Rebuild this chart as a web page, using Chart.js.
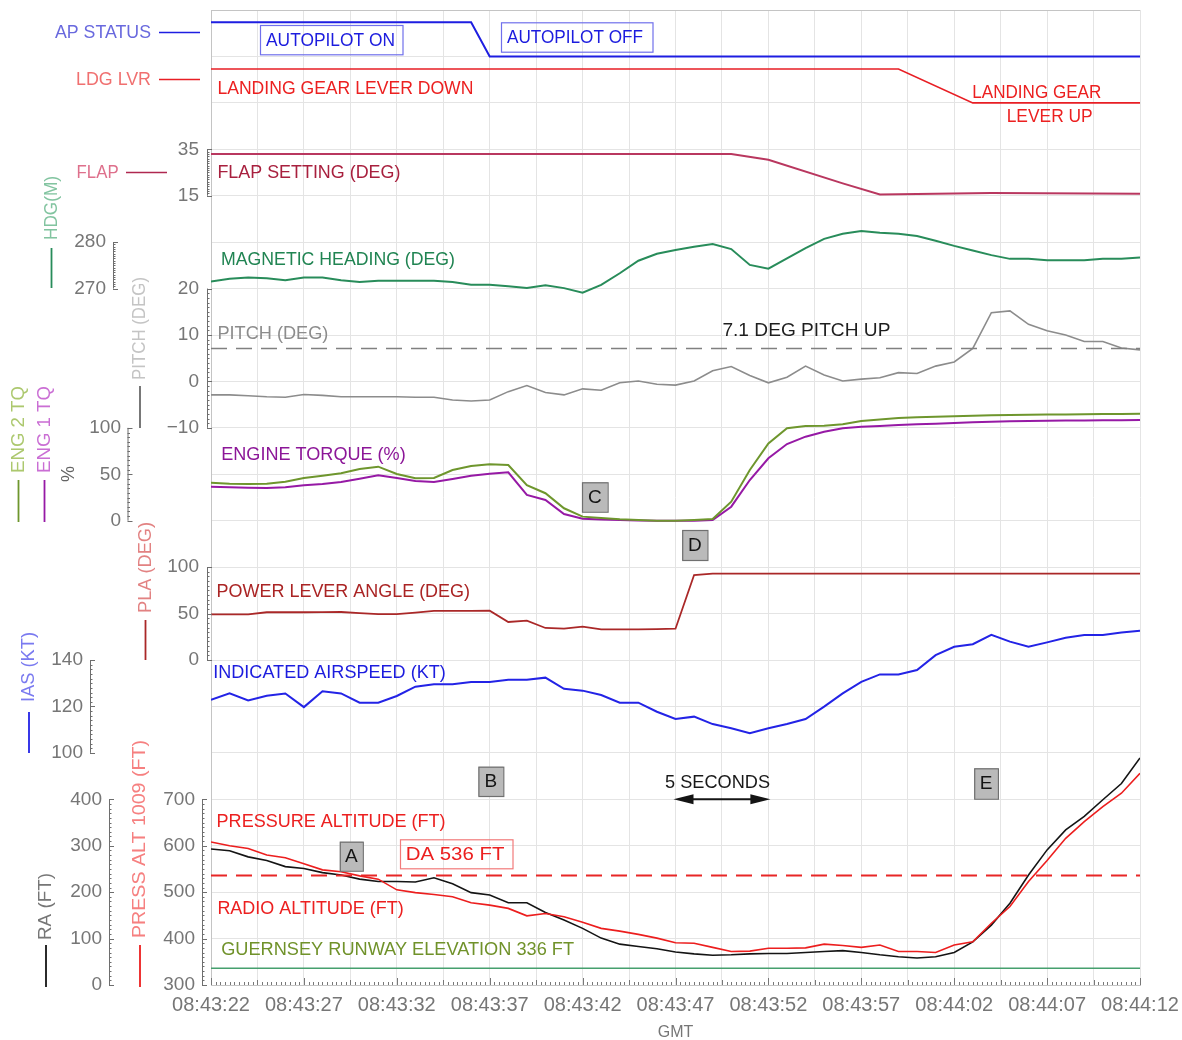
<!DOCTYPE html>
<html>
<head>
<meta charset="utf-8">
<title>Flight data – go-around at Guernsey</title>
<script src="https://cdn.jsdelivr.net/npm/chart.js@4/dist/chart.umd.min.js"></script>
<style>
  html, body { margin: 0; padding: 0; background: #fff; }
  canvas { display: block; }
</style>
</head>
<body>
<canvas id="fdr" width="1182" height="1040"></canvas>
<script>
// ---- recorded parameters, one sample per second ----
const times = [
  '08:43:22','08:43:23','08:43:24','08:43:25','08:43:26','08:43:27','08:43:28','08:43:29','08:43:30','08:43:31',
  '08:43:32','08:43:33','08:43:34','08:43:35','08:43:36','08:43:37','08:43:38','08:43:39','08:43:40','08:43:41',
  '08:43:42','08:43:43','08:43:44','08:43:45','08:43:46','08:43:47','08:43:48','08:43:49','08:43:50','08:43:51',
  '08:43:52','08:43:53','08:43:54','08:43:55','08:43:56','08:43:57','08:43:58','08:43:59','08:44:00','08:44:01',
  '08:44:02','08:44:03','08:44:04','08:44:05','08:44:06','08:44:07','08:44:08','08:44:09','08:44:10','08:44:11',
  '08:44:12'
];
const magHeading = [
  271.5, 272.1, 272.4, 272.2, 271.8, 272.4, 272.4, 271.8, 271.4, 271.7,
  271.7, 271.7, 271.7, 271.4, 270.8, 270.8, 270.5, 270.1, 270.7, 270.1,
  269.1, 270.8, 273.3, 276.0, 277.5, 278.3, 279.0, 279.6, 278.5, 275.1,
  274.3, 276.5, 278.7, 280.7, 281.8, 282.4, 282.0, 281.8, 281.3, 280.3,
  279.2, 278.2, 277.2, 276.4, 276.4, 276.1, 276.1, 276.1, 276.4, 276.4,
  276.7
];
const pitchDeg = [
  -2.9, -2.9, -3.1, -3.3, -3.4, -2.8, -3.0, -3.3, -3.3, -3.3,
  -3.3, -3.4, -3.4, -4.0, -4.2, -4.0, -2.2, -0.9, -2.4, -2.9,
  -1.6, -1.9, -0.3, 0.1, -0.6, -0.8, 0.1, 2.3, 3.2, 1.3,
  -0.3, 0.9, 3.3, 1.4, 0.1, 0.5, 0.8, 1.9, 1.7, 3.3,
  4.2, 7.1, 14.8, 15.2, 12.3, 10.9, 10.0, 8.6, 8.6, 7.2,
  6.8
];
const eng2Torque = [
  41.0, 39.9, 39.5, 39.9, 42.0, 46.0, 48.5, 51.1, 55.7, 58.2,
  50.3, 45.7, 46.0, 54.6, 58.9, 60.8, 60.0, 38.2, 29.6, 13.4,
  4.4, 2.8, 1.5, 0.8, 0.0, 0.0, 0.8, 1.8, 20.5, 54.6,
  83.3, 99.5, 102.0, 102.3, 103.8, 107.4, 109.0, 110.6, 111.3, 112.0,
  112.5, 113.0, 113.5, 113.9, 114.1, 114.3, 114.5, 114.7, 114.9, 115.0,
  115.2
];
const eng1Torque = [
  36.6, 36.0, 35.6, 35.2, 36.0, 38.1, 39.5, 41.7, 45.2, 48.9,
  46.0, 42.7, 41.7, 44.9, 48.5, 50.6, 52.1, 27.7, 22.3, 7.2,
  2.2, 1.2, 0.8, 0.3, 0.0, 0.0, 0.0, 0.8, 15.1, 43.8,
  67.2, 82.6, 90.5, 95.8, 99.5, 101.2, 102.0, 103.0, 103.8, 104.5,
  105.3, 106.0, 106.5, 107.0, 107.3, 107.6, 107.8, 108.0, 108.2, 108.3,
  108.4
];
const powerLever = [
  49.2, 49.2, 49.2, 51.4, 51.4, 51.4, 51.5, 51.7, 50.5, 49.5,
  49.5, 51.0, 52.8, 52.8, 53.0, 53.1, 40.9, 42.3, 34.5, 33.7,
  35.9, 33.0, 33.0, 33.0, 33.2, 33.7, 91.5, 93.0, 93.0, 93.0,
  93.0, 93.0, 93.0, 93.0, 93.0, 93.0, 93.0, 93.0, 93.0, 93.0,
  93.0, 93.0, 93.0, 93.0, 93.0, 93.0, 93.0, 93.0, 93.0, 93.0,
  93.0
];
const airspeed = [
  122.8, 125.6, 122.6, 124.6, 125.6, 119.7, 126.5, 125.6, 121.6, 121.6,
  124.5, 128.5, 129.6, 129.6, 130.5, 130.5, 131.5, 131.5, 132.4, 127.6,
  126.8, 124.9, 121.6, 121.6, 117.7, 114.6, 115.6, 112.4, 110.6, 108.5,
  110.6, 112.4, 114.6, 119.9, 125.6, 130.6, 133.8, 133.8, 135.7, 142.1,
  145.7, 146.8, 150.8, 147.9, 145.7, 147.6, 149.6, 150.8, 150.8, 151.8,
  152.6
];
const pressureAlt = [
  608, 600, 594, 580, 574, 561, 548, 544, 535, 528,
  505, 499, 495, 490, 477, 472, 465, 449, 454, 447,
  435, 422, 416, 409, 401, 391, 390, 381, 372, 373,
  379, 379, 380, 388, 385, 381, 386, 372, 372, 370,
  386, 393, 433, 469, 523, 568, 616, 652, 684, 713,
  756
];
const radioAlt = [
  293, 289, 276, 268, 255, 251, 242, 237, 228, 223,
  223, 222, 231, 218, 199, 194, 177, 177, 156, 140,
  122, 101, 88, 83, 78, 71, 67, 64, 65, 67,
  68, 68, 70, 72, 74, 70, 65, 61, 58, 61,
  70, 93, 129, 176, 237, 291, 334, 363, 399, 434,
  489
];

// ---- discrete states (changes only) ----
const apTimes = ['08:43:22', '08:43:36', '08:43:37', '08:44:12'];
const apState = [1, 1, 0, 0];                 // 1 = autopilot engaged
const gearTimes = ['08:43:22', '08:43:59', '08:44:03', '08:44:12'];
const gearLever = [1, 1, 0, 0];               // 1 = lever down
const flapTimes = ['08:43:22', '08:43:50', '08:43:52', '08:43:56', '08:43:58', '08:44:04', '08:44:12'];
const flapDeg = [33, 33, 30.5, 20.3, 15.5, 16.2, 15.8];

// ---- reference levels ----
const pitchUpRef = 7.1;
const decisionAlt = 536;
const runwayElev = 336;

// ---- axis tick labels ----
const timeTicks = ['08:43:22','08:43:27','08:43:32','08:43:37','08:43:42','08:43:47',
                   '08:43:52','08:43:57','08:44:02','08:44:07','08:44:12'];
const flapTicks = [35, 15];
const hdgTicks = [280, 270];
const pitchTicks = [20, 10, 0, -10];
const torqueTicks = [100, 50, 0];
const plaTicks = [100, 50, 0];
const iasTicks = [140, 120, 100];
const raTicks = [400, 300, 200, 100, 0];
const paTicks = [700, 600, 500, 400, 300];

// ---------------------------------------------------------------------------
const secOf = s => { const [h, m, x] = s.split(':').map(Number); return h * 3600 + m * 60 + x; };
const T0 = secOf(times[0]);
const T1 = secOf(times[times.length - 1]) - T0;
const pts = (ts, vs) => vs.map((v, i) => ({ x: secOf(ts[i]) - T0, y: v }));
const flat = v => pts([times[0], times[times.length - 1]], [v, v]);

// The plot is a 21-row grid; each trace gets its own scale pinned to a row.
const ROWS = 21;
const band = (v, row, perRow) => ({ min: v - (ROWS - row) * perRow, max: v + row * perRow });

const FONT = '"Liberation Sans", Arial, sans-serif';
const GRID = 'rgb(228,228,228)';
const FRAME = 'rgb(196,196,196)';
const TICKTXT = 'rgb(118,118,118)';

function line(id, data, color, width, extra) {
  return Object.assign({
    data, yAxisID: id, borderColor: color, borderWidth: width,
    pointRadius: 0, tension: 0, fill: false
  }, extra || {});
}

const datasets = [
  line('yPitch', flat(pitchUpRef), 'rgb(128,128,128)', 1.5, { borderDash: [16, 9] }),
  line('yPa', flat(decisionAlt), 'rgb(232,38,38)', 2, { borderDash: [16, 9] }),
  line('yPa', flat(runwayElev), 'rgb(70,160,110)', 1.5),
  line('yAp', pts(apTimes, apState), 'rgb(30,30,225)', 2),
  line('yGear', pts(gearTimes, gearLever), 'rgb(232,30,36)', 1.6),
  line('yFlap', pts(flapTimes, flapDeg), 'rgb(185,55,95)', 2),
  line('yHdg', pts(times, magHeading), 'rgb(40,140,90)', 2),
  line('yPitch', pts(times, pitchDeg), 'rgb(140,140,140)', 1.6),
  line('yTq', pts(times, eng2Torque), 'rgb(110,150,45)', 2),
  line('yTq', pts(times, eng1Torque), 'rgb(150,25,165)', 2),
  line('yPla', pts(times, powerLever), 'rgb(170,40,40)', 1.8),
  line('yIas', pts(times, airspeed), 'rgb(35,35,230)', 2),
  line('yPa', pts(times, pressureAlt), 'rgb(236,30,30)', 1.6),
  line('yRa', pts(times, radioAlt), 'rgb(20,20,20)', 1.6)
];

const hidden = (r) => Object.assign({ display: false, position: 'left' }, r);

// ---- text helper: optional horizontal fit to a width, optional rotation ----
function txt(ctx, s, x, y, o) {
  ctx.save();
  ctx.font = (o.size || 19) + 'px ' + FONT;
  ctx.fillStyle = o.color || '#000';
  ctx.textBaseline = 'middle';
  ctx.textAlign = o.align || 'left';
  const w = ctx.measureText(s).width;
  ctx.translate(x, y);
  if (o.rot) ctx.rotate(-Math.PI / 2);
  if (o.w) ctx.scale(o.w / w, 1);
  ctx.fillText(s, 0, 0);
  ctx.restore();
}
function seg(ctx, x1, y1, x2, y2, color, width) {
  ctx.save();
  ctx.strokeStyle = color; ctx.lineWidth = width || 1;
  ctx.beginPath(); ctx.moveTo(x1, y1); ctx.lineTo(x2, y2); ctx.stroke();
  ctx.restore();
}
function boxed(ctx, s, x1, y1, x2, y2, fill, stroke, color, size) {
  ctx.save();
  if (fill) { ctx.fillStyle = fill; ctx.fillRect(x1, y1, x2 - x1, y2 - y1); }
  ctx.strokeStyle = stroke; ctx.lineWidth = 1.2;
  ctx.strokeRect(x1 + 0.5, y1 + 0.5, x2 - x1, y2 - y1);
  ctx.restore();
  txt(ctx, s, (x1 + x2) / 2, (y1 + y2) / 2 + 0.5, { color, align: 'center', size: size || 19 });
}

// ---- side scales, titles, notes ----
const sideScales = [
  { id: 'yFlap', ticks: flapTicks, spine: 207, right: 199, minor: 1 },
  { id: 'yHdg', ticks: hdgTicks, spine: 113, right: 106, minor: 0.5 },
  { id: 'yPitch', ticks: pitchTicks, spine: 207, right: 199, minor: 1 },
  { id: 'yTq', ticks: torqueTicks, spine: 127.5, right: 121, minor: 5 },
  { id: 'yPla', ticks: plaTicks, spine: 207, right: 199, minor: 5 },
  { id: 'yIas', ticks: iasTicks, spine: 90, right: 83, minor: 2 },
  { id: 'yRa', ticks: raTicks, spine: 109, right: 102, minor: 10 },
  { id: 'yPa', ticks: paTicks, spine: 202, right: 195, minor: 10 }
];

const overlay = {
  id: 'overlay',
  afterDraw(chart) {
    const ctx = chart.ctx, S = chart.scales, xs = S.x;
    const area = chart.chartArea;

    // time axis minor ticks
    ctx.save();
    ctx.strokeStyle = 'rgb(120,120,120)'; ctx.lineWidth = 1;
    ctx.beginPath();
    for (let i = 0; i <= T1 * 4; i++) {
      const px = Math.round(xs.getPixelForValue(i / 4)) + 0.5;
      const len = i % 20 === 0 ? 7 : (i % 10 === 0 ? 5 : 3);
      ctx.moveTo(px, area.bottom); ctx.lineTo(px, area.bottom - len);
    }
    ctx.stroke();
    ctx.restore();

    // side scales
    sideScales.forEach(a => {
      const sc = S[a.id];
      const hi = Math.max(...a.ticks), lo = Math.min(...a.ticks);
      const x = a.spine;
      ctx.save();
      ctx.strokeStyle = 'rgb(110,110,110)'; ctx.lineWidth = 1;
      ctx.beginPath();
      ctx.moveTo(x + 0.5, sc.getPixelForValue(hi)); ctx.lineTo(x + 0.5, sc.getPixelForValue(lo));
      const n = Math.round((hi - lo) / a.minor);
      for (let i = 0; i <= n; i++) {
        const v = lo + i * a.minor;
        const py = Math.round(sc.getPixelForValue(v)) + 0.5;
        const major = a.ticks.some(t => Math.abs(t - v) < 1e-6);
        ctx.moveTo(x, py); ctx.lineTo(x + (major ? 5 : 2.5), py);
      }
      ctx.stroke();
      ctx.restore();
      a.ticks.forEach(v => {
        const s = v < 0 ? '\u2212' + Math.abs(v) : String(v);
        txt(ctx, s, a.right, sc.getPixelForValue(v), { color: TICKTXT, align: 'right', size: 19 });
      });
    });

    // horizontal parameter keys
    txt(ctx, 'AP STATUS', 151, 32.7, { color: 'rgb(105,105,222)', align: 'right', size: 18, w: 96 });
    seg(ctx, 159, 32.5, 200, 32.5, 'rgb(30,30,225)', 1.6);
    txt(ctx, 'LDG LVR', 151, 80.3, { color: 'rgb(240,112,112)', align: 'right', size: 18, w: 75 });
    seg(ctx, 159, 79.5, 200, 79.5, 'rgb(232,30,36)', 1.6);
    txt(ctx, 'FLAP', 118.6, 173, { color: 'rgb(222,112,140)', align: 'right', size: 18, w: 42 });
    seg(ctx, 126, 172.5, 167, 172.5, 'rgb(175,40,80)', 1.6);

    // vertical parameter keys (read bottom to top, key line below)
    const vkey = (s, x, yStart, len, tColor, lColor, y1, y2) => {
      txt(ctx, s, x, yStart, { color: tColor, rot: true, size: 19, w: len });
      seg(ctx, x, y1, x, y2, lColor, 1.8);
    };
    vkey('HDG(M)', 51.5, 240, 64, 'rgb(130,196,160)', 'rgb(40,140,90)', 248, 288);
    vkey('PITCH (DEG)', 140, 380, 103, 'rgb(196,196,196)', 'rgb(105,105,105)', 386, 428);
    vkey('ENG 2 TQ', 18.5, 473, 87, 'rgb(172,200,110)', 'rgb(110,150,45)', 480, 522);
    vkey('ENG 1 TQ', 44.5, 473, 87, 'rgb(202,110,212)', 'rgb(150,25,165)', 480, 522);
    txt(ctx, '%', 69, 474, { color: 'rgb(100,100,100)', rot: true, align: 'center', size: 18 });
    vkey('PLA (DEG)', 145.5, 613, 91, 'rgb(226,130,130)', 'rgb(170,40,40)', 620, 660);
    vkey('IAS (KT)', 29, 702, 70, 'rgb(122,122,240)', 'rgb(35,35,230)', 712, 753);
    vkey('PRESS ALT 1009 (FT)', 140, 938, 198, 'rgb(246,128,128)', 'rgb(236,30,30)', 945, 987);
    vkey('RA (FT)', 46, 940, 67, 'rgb(118,118,118)', 'rgb(20,20,20)', 945, 987);

    // in-plot captions
    const BLUE = 'rgb(28,28,222)', RED = 'rgb(236,32,32)';
    boxed(ctx, '', 260, 25, 402.5, 54.3, null, 'rgb(112,112,236)');
    txt(ctx, 'AUTOPILOT ON', 266, 41, { color: BLUE, w: 129 });
    boxed(ctx, '', 501, 22.3, 652.5, 51.7, null, 'rgb(112,112,236)');
    txt(ctx, 'AUTOPILOT OFF', 507, 37.5, { color: BLUE, w: 136 });
    txt(ctx, 'LANDING GEAR LEVER DOWN', 217.4, 88.7, { color: RED, w: 256 });
    txt(ctx, 'LANDING GEAR', 972.3, 92.7, { color: RED, w: 129 });
    txt(ctx, 'LEVER UP', 1006.7, 117, { color: RED, w: 86 });
    txt(ctx, 'FLAP SETTING (DEG)', 217.4, 172.3, { color: 'rgb(168,32,62)', w: 183 });
    txt(ctx, 'MAGNETIC HEADING (DEG)', 221, 259.5, { color: 'rgb(32,132,82)', w: 234 });
    txt(ctx, 'PITCH (DEG)', 217.4, 333.5, { color: 'rgb(140,140,140)', w: 111 });
    txt(ctx, '7.1 DEG PITCH UP', 722.4, 331, { color: 'rgb(30,30,30)', w: 168 });
    txt(ctx, 'ENGINE TORQUE (%)', 221.2, 454.5, { color: 'rgb(140,22,152)', w: 184.5 });
    txt(ctx, 'POWER LEVER ANGLE (DEG)', 216.6, 592, { color: 'rgb(170,36,36)', w: 253.4 });
    txt(ctx, 'INDICATED AIRSPEED (KT)', 213.2, 673, { color: BLUE, w: 232.6 });
    txt(ctx, '5 SECONDS', 665, 782.7, { color: 'rgb(25,25,25)', w: 105 });
    txt(ctx, 'PRESSURE ALTITUDE (FT)', 216.6, 821.5, { color: RED, w: 229 });
    boxed(ctx, '', 400, 839.3, 512.5, 868.3, null, 'rgb(242,122,122)');
    txt(ctx, 'DA 536 FT', 405.7, 854.3, { color: RED, w: 98.7 });
    txt(ctx, 'RADIO ALTITUDE (FT)', 217.4, 909, { color: RED, w: 186.3 });
    txt(ctx, 'GUERNSEY RUNWAY ELEVATION 336 FT', 221.2, 950, { color: 'rgb(112,146,42)', w: 352.8 });

    // event markers
    const GF = 'rgb(186,186,186)', GS = 'rgb(112,112,112)', K = 'rgb(20,20,20)';
    boxed(ctx, 'A', 339.8, 841.7, 362.8, 870.7, GF, GS, K);
    boxed(ctx, 'B', 478.4, 766.7, 503.3, 796, GF, GS, K);
    boxed(ctx, 'C', 582, 482.3, 607.6, 511.7, GF, GS, K);
    boxed(ctx, 'D', 682.2, 530, 707.4, 560, GF, GS, K);
    boxed(ctx, 'E', 974.2, 768.3, 997.9, 798.7, GF, GS, K);

    // five-second scale arrow
    const ax1 = xs.getPixelForValue(25), ax2 = xs.getPixelForValue(30), ay = 799.3;
    ctx.save();
    ctx.strokeStyle = K; ctx.fillStyle = K; ctx.lineWidth = 2;
    ctx.beginPath(); ctx.moveTo(ax1 + 10, ay); ctx.lineTo(ax2 - 10, ay); ctx.stroke();
    ctx.beginPath(); ctx.moveTo(ax1 - 2, ay); ctx.lineTo(ax1 + 18, ay - 5); ctx.lineTo(ax1 + 18, ay + 5); ctx.closePath(); ctx.fill();
    ctx.beginPath(); ctx.moveTo(ax2 + 2, ay); ctx.lineTo(ax2 - 18, ay - 5); ctx.lineTo(ax2 - 18, ay + 5); ctx.closePath(); ctx.fill();
    ctx.restore();

    // time axis title
    txt(ctx, 'GMT', (area.left + area.right) / 2, 1033, { color: TICKTXT, align: 'center', size: 16 });
  }
};

new Chart(document.getElementById('fdr'), {
  type: 'line',
  data: { datasets },
  plugins: [overlay],
  options: {
    responsive: false,
    animation: false,
    events: [],
    layout: { padding: { left: 211, right: 42, top: 10, bottom: 15 } },
    plugins: { legend: { display: false }, tooltip: { enabled: false } },
    scales: {
      x: {
        type: 'linear', min: 0, max: T1,
        grid: { color: GRID, drawTicks: false },
        border: { color: FRAME },
        // the end labels may overhang the plot; keep the plot edges fixed
        afterFit: (s) => { s.paddingLeft = 0; s.paddingRight = 0; },
        ticks: {
          stepSize: 2.5, autoSkip: false, maxRotation: 0, padding: 8,
          color: TICKTXT, font: { family: FONT, size: 20, lineHeight: 1.2 },
          callback: v => (Math.abs(v % 5) < 1e-6 ? timeTicks[Math.round(v / 5)] : '')
        }
      },
      g: {
        type: 'linear', position: 'left', min: 0, max: ROWS, reverse: true,
        grid: { color: (c) => (c.tick && (c.tick.value === 0 || c.tick.value === ROWS) ? FRAME : GRID), drawTicks: false },
        border: { color: FRAME },
        ticks: { display: false, stepSize: 1 }
      },
      yAp: hidden(band(0, 1, 1.3617)),
      yGear: hidden(band(0, 2, 1.37)),
      yFlap: hidden(band(35, 3, 20)),
      yHdg: hidden(band(280, 5, 10)),
      yPitch: hidden(band(20, 6, 10)),
      yTq: hidden(band(100, 9, 50)),
      yPla: hidden(band(100, 12, 50)),
      yIas: hidden(band(140, 14, 20)),
      yRa: hidden(band(400, 17, 100)),
      yPa: hidden(band(700, 17, 100))
    }
  }
});
</script>
</body>
</html>
